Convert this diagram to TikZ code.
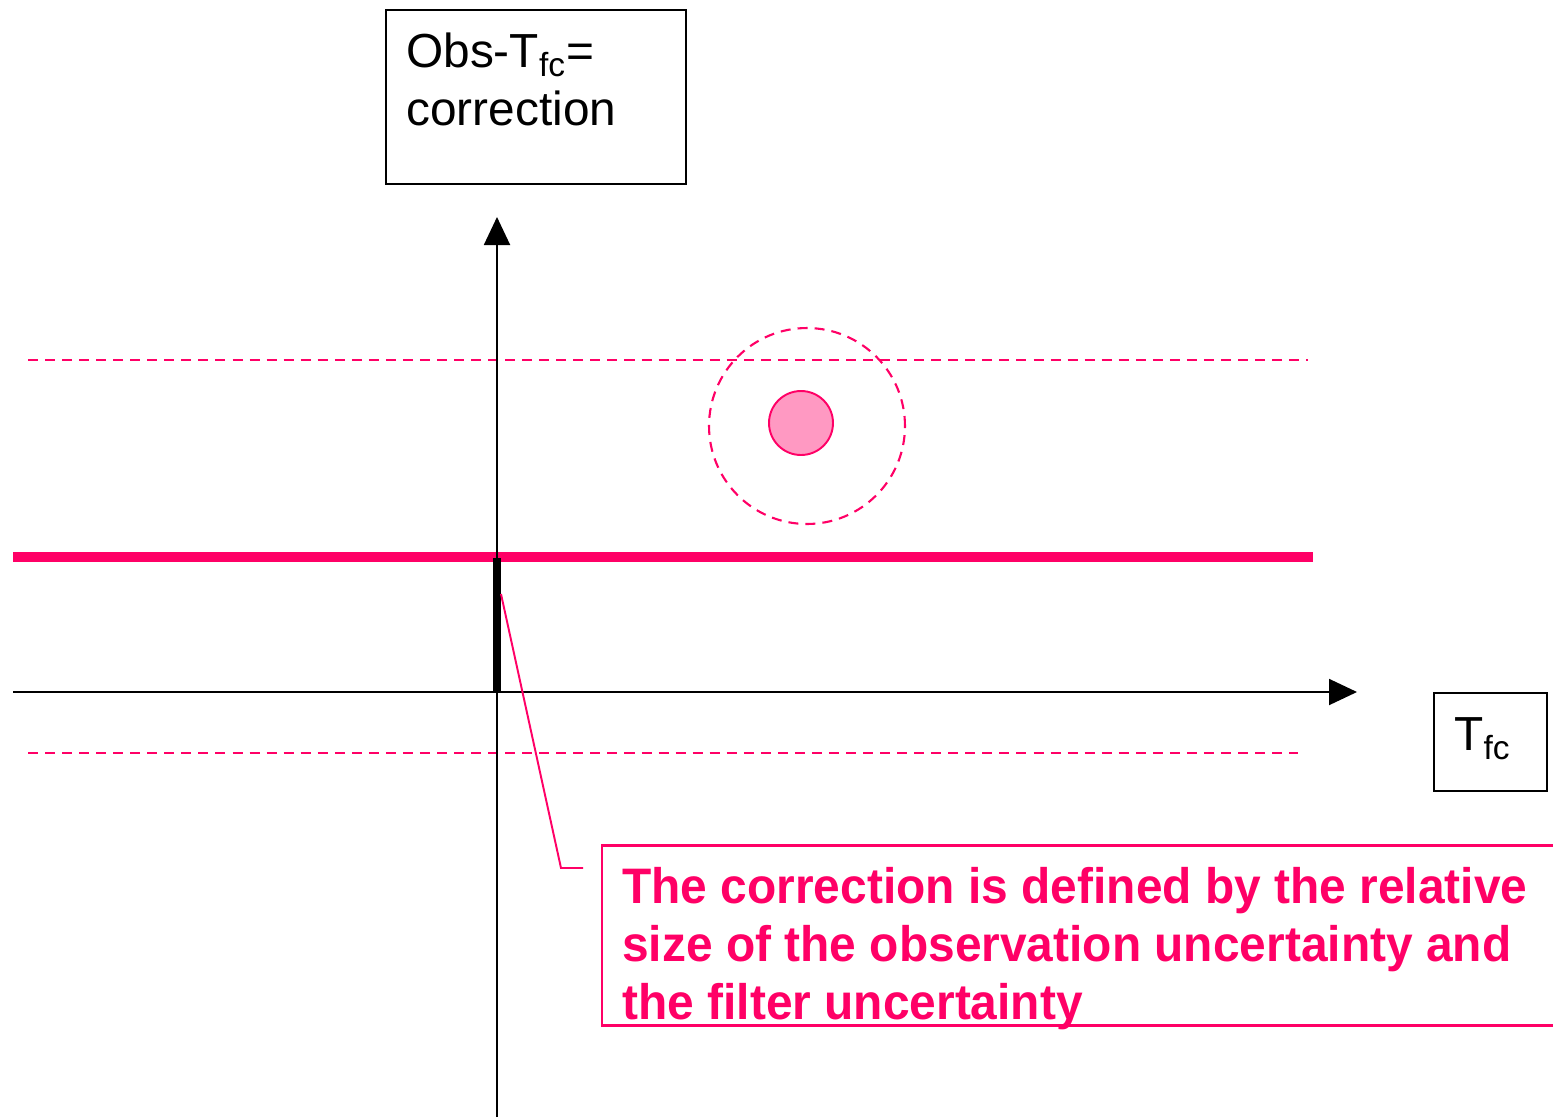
\documentclass[tikz,border=0pt]{standalone}
\usepackage{fontspec}
\setmainfont{Liberation Sans}
\newfontfamily\narrowbold[FakeStretch=0.96]{Liberation Sans Bold}
\usetikzlibrary{arrows.meta}
\definecolor{hotpink}{HTML}{FF0066}
\definecolor{softpink}{HTML}{FF99C2}
\tikzset{
  axisline/.style={line width=1.1pt, -{Triangle[length=0.56cm,width=0.52cm]}},
  framebox/.style={draw, line width=0.9pt, inner sep=0pt},
  bigtext/.style={anchor=base west, inner sep=0pt, font=\fontsize{27.2}{33}\selectfont},
  pinktext/.style={anchor=base west, inner sep=0pt, text=hotpink, font=\narrowbold\fontsize{28.4}{33}\selectfont},
  pinkdash/.style={draw=hotpink, line width=1.2pt, dash pattern=on 5.7pt off 4pt},
}
\begin{document}
\begin{tikzpicture}[x=0.02cm,y=-0.02cm]
\useasboundingbox[fill=white] (0,0) rectangle (1553,1117);
% boxes
\node[framebox, minimum width=6cm, minimum height=3.48cm] (ybox) at (536,97) {};
\node[bigtext] (ylab1) at (406,67) {Obs-T\textsubscript{fc}=};
\node[bigtext] (ylab2) at (406,125) {correction};
\node[framebox, minimum width=2.26cm, minimum height=1.96cm] (xbox) at (1490.5,742) {};
\node[bigtext] (xlab) at (1454,750) {T\textsubscript{fc}};
% dashed uncertainty lines
\coordinate (du1) at (28,360); \coordinate (du2) at (1308,360);
\coordinate (dl1) at (28,753); \coordinate (dl2) at (1298,753);
\draw[pinkdash] (du1) -- (du2);
\draw[pinkdash] (dl1) -- (dl2);
% thick pink line
\coordinate (tp1) at (13,557); \coordinate (tp2) at (1313,557);
\draw[hotpink, line width=5.7pt] (tp1) -- (tp2);
% axes
\coordinate (yb) at (497,1117); \coordinate (yt) at (497,217);
\coordinate (xl) at (13,692); \coordinate (xr) at (1357,692);
\draw[axisline] (yb) -- (yt);
\draw[axisline] (xl) -- (xr);
% black bar
\coordinate (bb) at (497,692); \coordinate (bt) at (497,558);
\draw[line width=4pt] (bb) -- (bt);
% circles
\node[circle, pinkdash, minimum size=3.92cm, inner sep=0pt] (unc) at (807,426) {};
\node[circle, draw=hotpink, fill=softpink, line width=1.1pt, minimum size=1.28cm, inner sep=0pt] (obs) at (801,423) {};
% note box
\node[pinktext] (n1) at (622,903) {The correction is defined by the relative};
\node[pinktext] (n2) at (622,961) {size of the observation uncertainty and};
\node[pinktext] (n3) at (622,1019) {the filter uncertainty};
\coordinate (nb1) at (1560,845); \coordinate (nb2) at (602,845);
\coordinate (nb3) at (602,1025); \coordinate (nb4) at (1560,1025);
\draw[hotpink, line width=1.7pt] (nb1) -- (nb2) -- (nb3) -- (nb4);
% leader
\coordinate (ls) at (501,594); \coordinate (lm) at (561,868); \coordinate (le) at (583,868);
\draw[hotpink, line width=1.1pt] (ls) -- (lm) -- (le);
\end{tikzpicture}
\end{document}
